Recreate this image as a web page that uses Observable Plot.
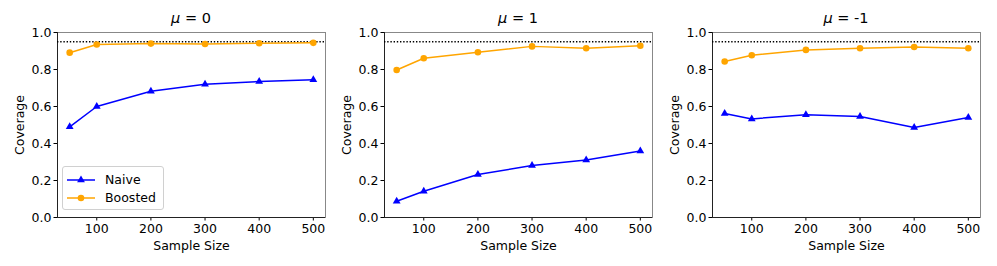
<!DOCTYPE html>
<html>
<head>
<meta charset="utf-8">
<script src="https://cdn.jsdelivr.net/npm/d3@7"></script>
<script src="https://cdn.jsdelivr.net/npm/@observablehq/plot@0.6"></script>
<style>
  html, body { margin: 0; padding: 0; background: #fff; }
  #wrap { position: relative; width: 997px; height: 266px; font-family: "DejaVu Sans", sans-serif; }
  .title { position: absolute; top: 9px; font-size: 14.5px; text-align: center; width: 200px; line-height: 18px; color: #000; }
  .legend { position: absolute; left: 62px; top: 166px; width: 100px; height: 42px; border: 1px solid #d0d0d0; border-radius: 3px; background: rgba(255,255,255,0.85); font-size: 12.5px; }
  .legend .row { position: absolute; left: 0; height: 16px; }
  .legend .row svg { position: absolute; left: 4px; top: 0; }
  .legend .row span { position: absolute; left: 42px; top: 0; line-height: 16px; white-space: nowrap; }
</style>
</head>
<body>
<div id="wrap"></div>
<script>
// ---- data ----
const sampleSizes = [50, 100, 200, 300, 400, 500];
const panelTitles = ["0", "1", "-1"];
const naiveMu0   = [0.490, 0.600, 0.682, 0.720, 0.735, 0.745];
const boostedMu0 = [0.891, 0.935, 0.940, 0.938, 0.942, 0.944];
const naiveMu1   = [0.088, 0.142, 0.232, 0.281, 0.311, 0.360];
const boostedMu1 = [0.797, 0.861, 0.893, 0.925, 0.915, 0.928];
const naiveMuM1   = [0.562, 0.533, 0.556, 0.546, 0.486, 0.540];
const boostedMuM1 = [0.843, 0.877, 0.906, 0.915, 0.922, 0.915];
const nominal = 0.95;
const xTicks = [100, 200, 300, 400, 500];
const yTicks = [0, 0.2, 0.4, 0.6, 0.8, 1.0];
const seriesNames = ["Naive", "Boosted"];
const seriesColors = ["#0000ff", "#ffa500"];

const naiveAll = [naiveMu0, naiveMu1, naiveMuM1];
const boostedAll = [boostedMu0, boostedMu1, boostedMuM1];
const lefts = [0, 327, 655];
const triR = 2.9, circR = 3.3;

const wrap = document.getElementById("wrap");

function makePanel(naive, boosted) {
  const data = sampleSizes.map((s, i) => ({s, naive: naive[i], boosted: boosted[i]}));
  return Plot.plot({
    width: 332,
    height: 266,
    marginLeft: 57,
    marginRight: 7,
    marginTop: 32,
    marginBottom: 49,
    style: {fontFamily: "DejaVu Sans, sans-serif", fontSize: "12.5px", background: "transparent", color: "#000", overflow: "visible"},
    x: {domain: [27.5, 522.5]},
    y: {domain: [0, 1]},
    marks: [
      Plot.frame({stroke: "#888"}),
      Plot.axisX({ticks: xTicks, tickSize: 3.5, tickPadding: 3, label: null, tickFormat: d3.format("d"), fontSize: 12.5}),
      Plot.axisY({ticks: yTicks, tickSize: 3.5, tickPadding: 2.5, label: null, tickFormat: d3.format(".1f"), fontSize: 12.5}),
      Plot.ruleX([27.5], {stroke: "#222", strokeWidth: 1}),
      Plot.ruleY([0], {stroke: "#222", strokeWidth: 1}),
      Plot.ruleY([nominal], {stroke: "#000", strokeWidth: 1.4, strokeDasharray: "1.4,1.8"}),
      Plot.line(data, {x: "s", y: "naive", stroke: seriesColors[0], strokeWidth: 1.5}),
      Plot.dot(data, {x: "s", y: "naive", symbol: "triangle", fill: seriesColors[0], r: triR, stroke: null}),
      Plot.line(data, {x: "s", y: "boosted", stroke: seriesColors[1], strokeWidth: 1.5}),
      Plot.dot(data, {x: "s", y: "boosted", symbol: "circle", fill: seriesColors[1], r: circR, stroke: null}),
      Plot.text(["Coverage"], {frameAnchor: "left", textAnchor: "middle", lineAnchor: "middle", rotate: -90, dx: -37.5, fontSize: 12.5}),
      Plot.text(["Sample Size"], {frameAnchor: "bottom", textAnchor: "middle", lineAnchor: "middle", dy: 28.5, fontSize: 12.5})
    ]
  });
}

for (let p = 0; p < 3; p++) {
  const svg = makePanel(naiveAll[p], boostedAll[p]);
  svg.style.position = "absolute";
  svg.style.left = lefts[p] + "px";
  svg.style.top = "0px";
  wrap.appendChild(svg);
  const t = document.createElement("div");
  t.className = "title";
  const cx = lefts[p] + 57 + (332 - 64) / 2;
  t.style.left = (cx - 100) + "px";
  t.innerHTML = "<i>μ</i> = " + panelTitles[p];
  wrap.appendChild(t);
}

// legend in first panel
const leg = document.createElement("div");
leg.className = "legend";
const symbols = ["triangle", "circle"];
seriesNames.forEach((name, i) => {
  const row = document.createElement("div");
  row.className = "row";
  row.style.top = (5 + i * 18.3) + "px";
  const ns = "http://www.w3.org/2000/svg";
  const s = document.createElementNS(ns, "svg");
  s.setAttribute("width", 30); s.setAttribute("height", 16);
  const ln = document.createElementNS(ns, "line");
  ln.setAttribute("x1", 0); ln.setAttribute("x2", 28); ln.setAttribute("y1", 8); ln.setAttribute("y2", 8);
  ln.setAttribute("stroke", seriesColors[i]); ln.setAttribute("stroke-width", 1.5);
  s.appendChild(ln);
  const path = document.createElementNS(ns, "path");
  const sym = symbols[i] === "triangle" ? d3.symbolTriangle : d3.symbolCircle;
  const r = symbols[i] === "triangle" ? triR : circR;
  path.setAttribute("d", d3.symbol(sym, Math.PI * r * r)());
  path.setAttribute("transform", "translate(14,8)");
  path.setAttribute("fill", seriesColors[i]);
  s.appendChild(path);
  row.appendChild(s);
  const sp = document.createElement("span");
  sp.textContent = name;
  row.appendChild(sp);
  leg.appendChild(row);
});
wrap.appendChild(leg);
</script>
</body>
</html>
